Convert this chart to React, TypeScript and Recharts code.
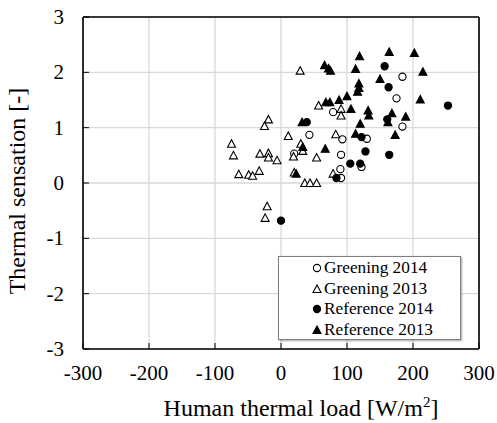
import React from "react";
import { ScatterChart, Scatter, XAxis, YAxis, CartesianGrid, ReferenceLine, Legend, Label } from "recharts";

// [human thermal load W/m2, thermal sensation]
const greening2014: Array<[number, number]> = [
  [20, 0.53], [43, 0.87], [79, 1.28], [93, 0.79], [91, 0.51], [90, 0.25],
  [91, 0.09], [122, 0.29], [130, 0.8], [175, 1.53], [184, 1.92], [184, 1.02],
];

const greening2013: Array<[number, number]> = [
  [-75, 0.71], [-72, 0.5], [-64, 0.16], [-49, 0.15], [-43, 0.13], [-33, 0.22],
  [-32, 0.53], [-19, 0.54], [-19, 0.46], [-6, 0.41], [-19, 1.15], [-25, 1.03],
  [11, 0.85], [-21, -0.42], [-24, -0.63], [29, 2.03], [30, 0.71], [33, 0.58],
  [19, 0.48], [20, 0.19], [36, 0.0], [44, 0.0], [54, 0.0], [54, 0.46],
  [57, 1.4], [91, 1.34], [91, 1.22], [83, 0.88], [79, 0.17],
];

const reference2014: Array<[number, number]> = [
  [0, -0.68], [39, 1.1], [157, 2.11], [163, 1.73], [253, 1.4], [161, 1.15],
  [122, 0.83], [128, 0.57], [164, 0.51], [105, 0.35], [120, 0.35], [84, 0.09],
];

const reference2013: Array<[number, number]> = [
  [32, 1.1], [33, 0.65], [23, 0.17], [67, 0.62], [68, 1.46], [74, 1.46],
  [88, 1.5], [100, 1.57], [106, 1.34], [66, 2.13], [72, 2.07], [75, 2.03],
  [119, 2.29], [113, 2.06], [118, 1.8], [118, 1.72], [116, 1.65], [164, 2.37],
  [202, 2.35], [215, 2.01], [150, 1.88], [211, 1.51], [132, 1.31], [133, 1.22],
  [162, 1.1], [168, 1.26], [189, 1.2], [120, 1.07], [173, 0.87], [113, 0.89],
];

const xTicks = [-300, -200, -100, 0, 100, 200, 300];
const yTicks = [-3, -2, -1, 0, 1, 2, 3];

const FONT = "Liberation Serif, Times New Roman, serif";

const toPoints = (arr: Array<[number, number]>) => arr.map(([x, y]) => ({ x, y }));

type Kind = "circle" | "triangle";

function drawMarker(kind: Kind, filled: boolean, cx: number, cy: number) {
  const fill = filled ? "#000" : "#fff";
  if (kind === "circle") {
    return <circle cx={cx} cy={cy} r={3.6} fill={fill} stroke="#000" strokeWidth={1.1} />;
  }
  const h = 7;
  const w = 8;
  const pts = `${cx},${cy - h / 2 - 0.5} ${cx - w / 2},${cy + h / 2} ${cx + w / 2},${cy + h / 2}`;
  return <polygon points={pts} fill={fill} stroke="#000" strokeWidth={1.1} />;
}

const shapeFor = (kind: Kind, filled: boolean) => (props: any) => {
  const { cx, cy } = props;
  if (cx == null || cy == null) return <g />;
  return drawMarker(kind, filled, cx, cy);
};

const series = [
  { name: "Greening 2014", data: greening2014, kind: "circle" as Kind, filled: false },
  { name: "Greening 2013", data: greening2013, kind: "triangle" as Kind, filled: false },
  { name: "Reference 2014", data: reference2014, kind: "circle" as Kind, filled: true },
  { name: "Reference 2013", data: reference2013, kind: "triangle" as Kind, filled: true },
];

const LegendBox = () => (
  <div
    style={{
      background: "#fff",
      border: "1px solid #7f7f7f",
      boxShadow: "1px 1px 2px rgba(0,0,0,0.35)",
      width: 183,
      height: 84,
      boxSizing: "border-box",
      paddingTop: 1,
      fontFamily: FONT,
      fontSize: 17.3,
      lineHeight: "20.6px",
      color: "#000",
    }}
  >
    {series.map((s) => (
      <div key={s.name} style={{ display: "flex", alignItems: "center", height: 20.6, paddingLeft: 33 }}>
        <svg width={10} height={12} style={{ marginRight: 2 }}>
          {drawMarker(s.kind, s.filled, 5, 6)}
        </svg>
        <span>{s.name}</span>
      </div>
    ))}
  </div>
);

const XTick = (props: any) => {
  const { x, y, payload } = props;
  return (
    <text x={x} y={y + 15} textAnchor="middle" fontFamily={FONT} fontSize={21} fill="#000">
      {payload.value}
    </text>
  );
};

const YTick = (props: any) => {
  const { x, y, payload } = props;
  return (
    <text x={x} y={y + 7} textAnchor="end" fontFamily={FONT} fontSize={21} fill="#000">
      {payload.value}
    </text>
  );
};

const XTitle = (props: any) => {
  const vb = props.viewBox || {};
  const cx = vb.x + vb.width / 2 + 20;
  return (
    <text x={cx} y={416} textAnchor="middle" fontFamily={FONT} fontSize={24} fill="#000">
      Human thermal load [W/m
      <tspan fontSize={15} dy={-9}>2</tspan>
      <tspan dy={9}>]</tspan>
    </text>
  );
};

const YTitle = (props: any) => {
  const vb = props.viewBox || {};
  const cy = vb.y + vb.height / 2 + 8;
  const x = 25;
  return (
    <text
      x={x}
      y={cy}
      transform={`rotate(-90, ${x}, ${cy})`}
      textAnchor="middle"
      fontFamily={FONT}
      fontSize={24}
      fill="#000"
    >
      Thermal sensation [-]
    </text>
  );
};

export default function App() {
  return (
    <div style={{ position: "absolute", left: 0, top: 0, width: 497, height: 423, background: "#fff", fontFamily: FONT }}>
      <ScatterChart width={497} height={423} margin={{ top: 17, right: 18, bottom: 30, left: 23 }}>
        <CartesianGrid stroke="#d9d9d9" strokeWidth={1.3} />
        <XAxis
          type="number"
          dataKey="x"
          domain={[-300, 300]}
          ticks={xTicks}
          height={44}
          axisLine={{ stroke: "#000", strokeWidth: 1.6 }}
          tickLine={{ stroke: "#000", strokeWidth: 1 }}
          tickSize={-6}
          tickMargin={22}
          tick={XTick}
          allowDataOverflow
        >
          <Label content={XTitle} />
        </XAxis>
        <YAxis
          type="number"
          dataKey="y"
          domain={[-3, 3]}
          ticks={yTicks}
          width={60}
          axisLine={{ stroke: "#000", strokeWidth: 1.6 }}
          tickLine={{ stroke: "#000", strokeWidth: 1 }}
          tickSize={-6}
          tickMargin={25}
          tick={YTick}
          allowDataOverflow
        >
          <Label content={YTitle} />
        </YAxis>
        <ReferenceLine y={3} stroke="#000" strokeWidth={1.6} />
        <ReferenceLine x={300} stroke="#000" strokeWidth={1.6} />
        {series.map((s) => (
          <Scatter
            key={s.name}
            name={s.name}
            data={toPoints(s.data)}
            shape={shapeFor(s.kind, s.filled)}
            isAnimationActive={false}
          />
        ))}
        <Legend
          content={LegendBox}
          layout="vertical"
          align="center"
          verticalAlign="middle"
          wrapperStyle={{ left: 278, top: 256, width: 183, height: 84 }}
        />
      </ScatterChart>
    </div>
  );
}
